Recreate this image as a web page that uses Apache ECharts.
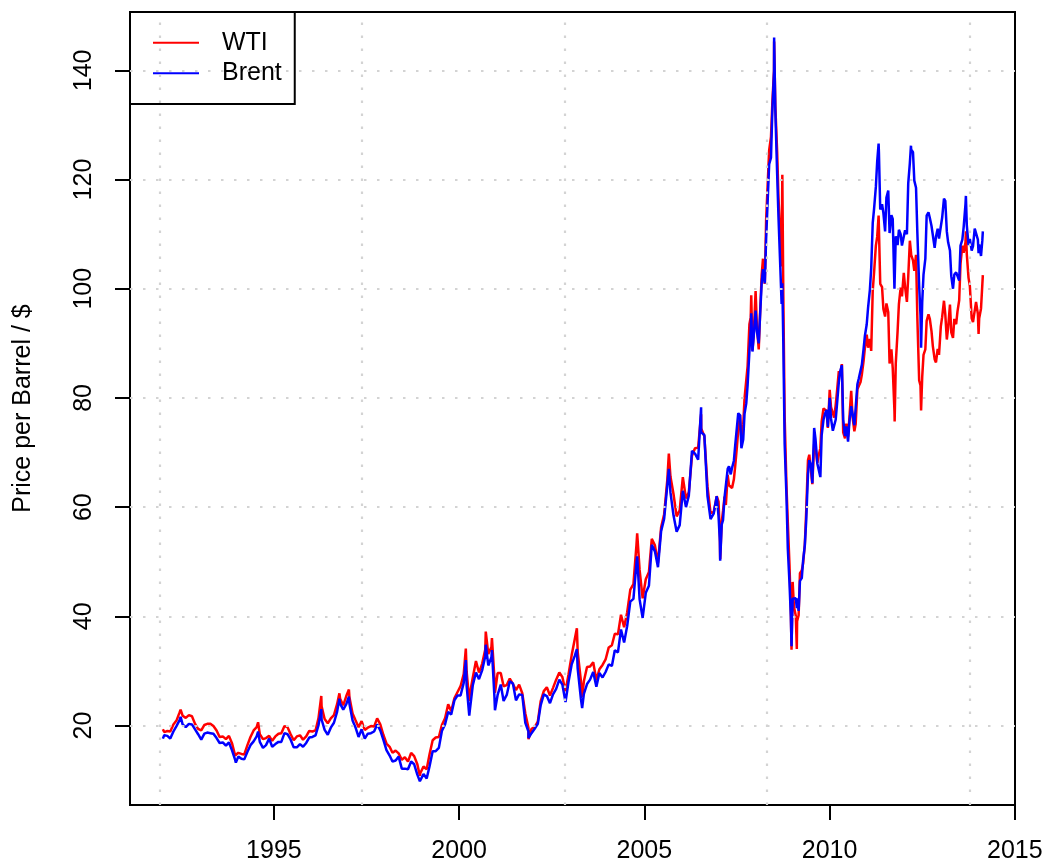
<!DOCTYPE html>
<html><head><meta charset="utf-8">
<script src="https://cdn.jsdelivr.net/npm/echarts@6/dist/echarts.min.js"></script>
<style>html,body{margin:0;padding:0;background:#fff}#c{width:1047px;height:867px}</style>
</head><body><div id="c"></div>
<script>
// monthly values, starting January 1992 (one value per month, mid-month)
const startYear = 1992;
const wtiMonthly = [
18.8,19.0,18.9,20.2,20.9,22.4,21.8,21.4,21.9,21.7,20.3,19.4,
19.1,20.1,20.3,20.3,19.9,19.1,17.9,18.0,17.5,18.1,16.7,14.5,
15.0,14.8,14.7,16.4,17.9,19.1,19.7,18.4,17.5,17.7,18.1,17.2,
18.0,18.5,18.6,19.9,19.7,18.4,17.3,18.0,18.2,17.4,18.0,19.0,
18.9,19.1,21.3,23.5,21.2,20.4,21.3,21.9,23.9,24.9,23.7,25.4,
25.2,22.2,21.0,19.7,20.8,19.2,19.6,19.9,19.8,21.3,20.2,18.3,
16.7,16.1,15.0,15.4,14.9,13.7,14.2,13.4,15.0,14.4,12.9,11.3,
12.5,12.0,14.7,17.3,17.8,17.9,20.1,21.3,23.9,22.6,25.0,26.1,
27.2,29.4,29.9,25.7,28.8,31.8,29.7,31.3,33.9,33.1,34.4,28.5,
29.6,29.6,27.2,27.4,28.6,27.6,26.5,27.5,25.9,22.2,19.6,19.4,
19.7,20.7,24.4,26.3,27.0,25.5,26.9,28.4,29.7,28.9,26.3,29.4,
32.9,35.9,33.5,28.3,28.1,30.7,30.8,31.6,28.3,30.3,31.1,32.1,
34.3,34.7,36.8,36.7,40.3,38.0,40.7,44.9,45.9,53.1,48.5,43.3,
46.8,48.1,54.2,53.0,49.8,56.3,58.7,65.0,65.6,62.4,58.3,59.4,
65.5,61.6,62.7,69.4,70.8,70.9,74.4,73.0,63.8,58.9,59.1,62.0,
54.5,59.3,60.4,64.0,63.5,67.5,74.1,72.4,79.9,85.8,94.8,91.7,
93.0,95.4,105.5,112.6,125.4,133.9,133.4,116.7,104.1,76.6,57.3,41.1,
41.7,39.1,47.9,49.7,59.0,69.6,64.2,71.0,69.4,75.7,78.0,74.5,
78.3,76.4,81.2,84.3,73.7,75.3,76.3,76.6,75.2,81.9,84.3,89.2,
89.2,88.6,102.9,109.5,100.9,96.3,97.3,86.3,85.5,86.3,97.2,98.6,
100.3,102.2,106.2,103.3,94.7,82.3,87.9,94.1,94.5,89.5,86.5,87.9,
94.8,95.3,92.9,92.0,94.5,95.8,104.6,106.6,106.3,100.5,93.9,97.6,
94.6,100.8
];
const brentMonthly = [
18.2,18.1,17.6,18.9,19.9,21.0,20.2,19.7,20.3,20.2,19.3,18.4,
17.4,18.5,18.7,18.6,18.5,17.7,16.8,16.9,16.3,16.9,15.4,13.7,
14.3,13.9,13.8,15.2,16.4,17.1,18.0,17.0,15.9,16.4,17.6,16.1,
16.6,17.0,17.0,18.6,18.4,17.4,16.0,16.0,16.6,16.1,16.8,17.8,
17.9,18.2,20.0,21.1,19.2,18.3,19.6,20.5,22.5,24.0,22.9,23.9,
24.0,20.9,19.7,17.9,19.3,17.6,18.5,18.6,18.9,20.2,19.1,17.4,
15.5,14.5,13.4,13.6,14.3,12.1,12.1,12.0,13.4,12.9,11.0,9.8,
11.1,10.3,12.5,15.3,15.3,15.9,19.0,20.2,22.5,22.0,24.6,25.5,
25.5,27.8,27.3,22.7,27.4,29.7,28.5,30.1,32.7,31.0,32.5,25.1,
25.6,27.5,24.5,25.6,28.1,27.7,24.6,25.7,25.6,20.5,18.9,18.6,
19.4,20.3,23.7,25.7,25.4,24.1,25.7,26.7,28.4,27.5,24.3,28.0,
31.2,32.8,30.4,25.0,25.8,27.6,28.4,29.8,27.1,29.6,28.8,29.8,
31.2,30.9,33.8,33.4,37.6,35.2,38.2,42.7,43.2,49.8,43.1,39.7,
44.3,45.6,53.1,51.9,49.0,55.6,57.9,64.0,62.7,58.5,55.5,56.7,
63.0,60.0,62.1,70.3,69.8,68.7,73.7,73.2,62.0,57.8,58.8,62.0,
53.7,57.6,62.1,67.5,67.2,71.3,77.2,70.8,77.1,82.3,92.5,91.5,
92.2,95.0,103.6,109.1,122.8,132.3,132.7,113.2,97.2,71.6,52.5,40.0,
43.4,43.3,46.5,50.2,57.3,68.6,64.4,72.5,67.7,73.2,77.0,74.7,
76.2,73.8,78.8,84.8,76.0,74.8,75.6,77.1,78.2,83.5,86.1,91.4,
96.5,103.7,114.6,123.3,114.5,113.9,116.7,110.2,112.8,109.6,110.8,107.9,
110.7,119.3,125.5,119.8,110.3,95.2,102.6,113.4,113.0,111.5,109.5,109.2,
113.0,116.1,108.5,102.3,102.6,102.9,107.9,111.3,111.6,109.1,107.8,110.8,
108.1,108.9
];
// start-of-month levels, January 2007 to February 2014
const monthStartYear = 2007;
const wtiMonthStart = [
61.0,57.3,61.9,65.9,63.7,65.1,71.1,76.9,75.1,80.2,93.5,88.7,
99.6,88.9,102.5,100.9,112.5,127.8,140.0,125.1,109.7,98.5,63.9,49.3,
46.3,40.1,40.2,48.4,53.2,68.6,69.3,71.6,68.1,70.8,78.1,77.6,
81.5,77.2,78.7,84.9,86.2,72.6,72.9,81.3,73.9,81.6,82.9,86.8,
91.6,90.8,99.6,107.9,113.5,100.3,94.9,95.7,88.9,77.6,92.2,100.2,
102.9,97.6,108.8,105.2,106.2,83.2,83.8,88.9,95.3,92.2,87.1,89.0,
93.1,97.8,90.7,97.1,91.0,93.5,97.9,107.9,108.5,102.0,94.6,93.6,
95.4,96.4
];
const brentMonthStart = [
58.3,56.8,61.8,67.0,66.0,68.5,71.5,76.8,72.4,79.0,88.5,88.5,
96.0,90.0,101.0,101.0,109.0,124.0,139.8,121.0,104.0,90.0,62.0,46.0,
43.2,43.3,41.0,47.0,53.0,66.0,67.7,74.5,68.0,65.5,76.0,77.8,
80.0,74.0,76.0,82.9,86.0,73.0,72.0,78.5,75.0,82.5,83.5,89.0,
93.5,99.8,112.0,118.7,125.0,115.5,110.5,118.0,113.5,100.0,108.0,110.0,
108.0,110.0,123.0,125.0,118.5,100.5,97.5,105.5,114.0,111.5,107.5,111.0,
109.0,116.5,110.5,107.0,100.0,103.0,101.5,109.0,115.5,108.0,107.0,111.0,
109.0,106.0
];
// daily extremes
const extraDates = ['1992-01-02','1992-06-25','1993-12-22','1994-07-29','1996-04-12','1996-10-08','1997-01-10',
'1998-12-10','2000-03-07','2000-04-10','2000-09-20','2000-11-20','2000-12-20','2001-11-15','2003-03-07',
'2003-04-28','2004-10-22','2005-08-30','2006-07-14','2007-01-18','2007-11-20','2008-07-03','2008-09-22',
'2008-12-22','2009-02-12','2011-04-29','2011-10-04','2012-03-13','2012-06-21','2013-09-06','2014-01-09','2014-02-20'];
const wtiExtra =   [19.3,22.9,14.2,20.6,25.4,25.9,26.6,10.8,34.1,24.5,37.2,36.0,26.0,17.5,37.8,
25.2,55.2,69.8,77.0,50.5,98.8,145.3,120.9,33.9,34.0,113.4,75.7,106.7,77.7,110.5,91.7,102.5];
const brentExtra = [17.6,21.6,13.2,18.9,23.0,24.9,25.3,9.8,32.0,21.8,34.8,33.8,22.8,17.7,34.0,
23.2,51.0,67.0,78.3,50.2,95.5,146.0,101.0,34.5,41.5,126.6,99.8,126.2,89.2,117.0,106.5,110.5];

const xTickLabels = [1995, 2000, 2005, 2010, 2015];
const yTickLabels = [20, 40, 60, 80, 100, 120, 140];
const xGridAt = [1991.906, 1997.378, 2002.857, 2008.31, 2013.79];

function decYear(y, m, d) {
  const s = Date.UTC(y, 0, 1), e = Date.UTC(y + 1, 0, 1);
  return y + (Date.UTC(y, m - 1, d) - s) / (e - s);
}
function build(monthly, monthStart, extra) {
  const pts = [];
  monthly.forEach((v, i) => {
    pts.push([decYear(startYear + Math.floor(i / 12), (i % 12) + 1, 15), v]);
  });
  monthStart.forEach((v, i) => {
    pts.push([decYear(monthStartYear + Math.floor(i / 12), (i % 12) + 1, 2), v]);
  });
  extraDates.forEach((ds, i) => {
    const p = ds.split('-').map(Number);
    pts.push([decYear(p[0], p[1], p[2]), extra[i]]);
  });
  pts.sort((a, b) => a[0] - b[0]);
  return pts;
}
const wtiData = build(wtiMonthly, wtiMonthStart, wtiExtra);
const brentData = build(brentMonthly, brentMonthStart, brentExtra);

const FONT = 'Liberation Sans, Arial, Helvetica, sans-serif';
const FS = 25;
const chart = echarts.init(document.getElementById('c'), null, {renderer: 'canvas'});
const gridStyle = {color: '#D3D3D3', type: [2.5, 10.5], width: 2.2, cap: 'butt'};
chart.setOption({
  animation: false,
  backgroundColor: '#fff',
  grid: {left: 130, right: 32, top: 12, bottom: 62, show: true, borderColor: '#000', borderWidth: 2,
    backgroundColor: 'transparent', containLabel: false, outerBoundsMode: 'none'},
  legend: {
    orient: 'vertical', left: 130, top: 12, padding: [15.7, 13, 15.7, 23], itemGap: 0.6,
    itemWidth: 46, itemHeight: 2, icon: 'rect', borderColor: '#000', borderWidth: 2,
    textStyle: {fontSize: FS, color: '#000', fontFamily: FONT, lineHeight: 30, padding: [0, 0, 0, 18]},
    data: ['WTI', 'Brent']
  },
  xAxis: {
    type: 'value', min: 1991.115, max: 2015.005,
    splitLine: {show: false},
    axisLine: {show: true, lineStyle: {color: '#000', width: 2}},
    axisTick: {show: true, length: 15, lineStyle: {color: '#000', width: 2}, customValues: xTickLabels},
    axisLabel: {customValues: xTickLabels, color: '#000', fontSize: FS, fontFamily: FONT, margin: 34,
      formatter: v => String(Math.round(v))}
  },
  yAxis: {
    type: 'value', min: 5.44, max: 150.69,
    name: 'Price per Barrel / $', nameLocation: 'middle', nameGap: 94, nameRotate: 90,
    nameTextStyle: {fontSize: FS, color: '#000', fontFamily: FONT},
    splitLine: {show: false},
    axisLine: {show: true, lineStyle: {color: '#000', width: 2}},
    axisTick: {show: true, length: 15, lineStyle: {color: '#000', width: 2}, customValues: yTickLabels},
    axisLabel: {customValues: yTickLabels, rotate: 90, color: '#000', fontSize: FS, fontFamily: FONT, margin: 33,
      formatter: v => String(Math.round(v))}
  },
  series: [
    {name: 'WTI', type: 'line', data: wtiData, showSymbol: false, symbol: 'none',
      lineStyle: {color: '#FF0000', width: 2.5}, itemStyle: {color: '#FF0000'}},
    {name: 'Brent', type: 'line', data: brentData, showSymbol: false, symbol: 'none',
      lineStyle: {color: '#0000FF', width: 2.5}, itemStyle: {color: '#0000FF'},
      markLine: {silent: true, symbol: ['none', 'none'], label: {show: false}, animation: false,
        lineStyle: gridStyle, emphasis: {disabled: true},
        data: xGridAt.map(v => ({xAxis: v})).concat(yTickLabels.map(v => ({yAxis: v})))}}
  ]
});
</script></body></html>
